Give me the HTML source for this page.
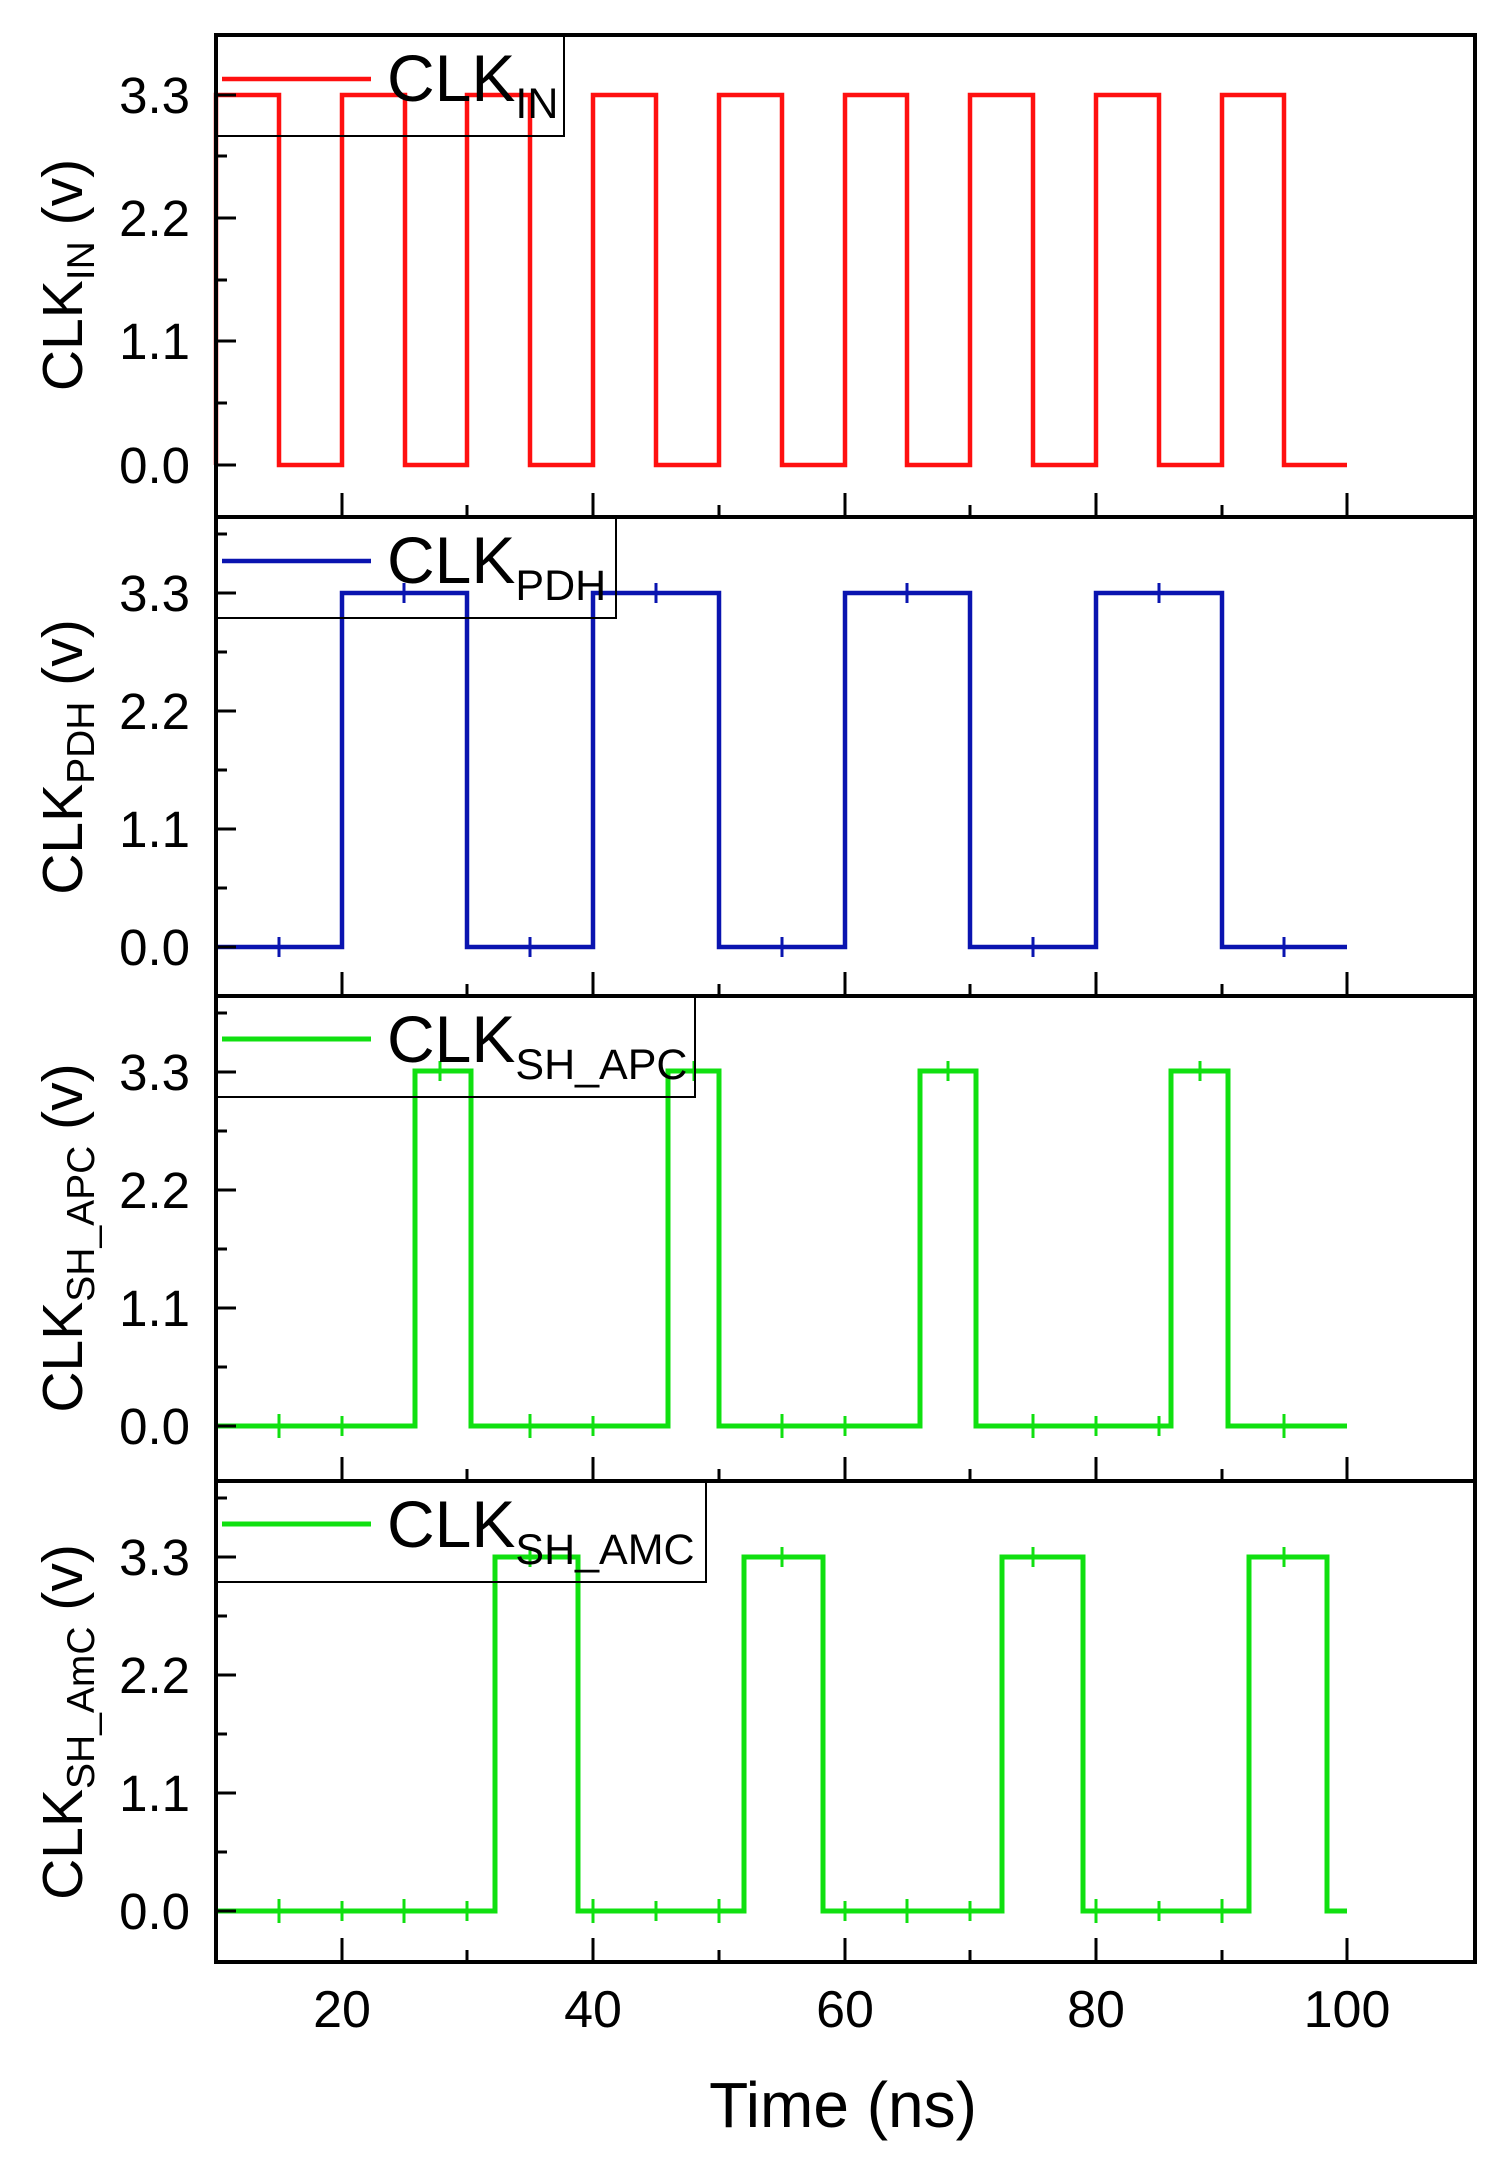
<!DOCTYPE html>
<html><head><meta charset="utf-8"><style>
html,body{margin:0;padding:0;background:#fff}
svg{display:block}
text{font-family:"Liberation Sans",Arial,sans-serif;fill:#000}
</style></head><body>
<svg width="1502" height="2164" viewBox="0 0 1502 2164" xmlns="http://www.w3.org/2000/svg">
<g fill="none" stroke-linejoin="miter">
<path d="M216 465 V95 H279 V465 H342 V95 H405 V465 H467 V95 H530 V465 H593 V95 H656 V465 H719 V95 H782 V465 H845 V95 H907 V465 H970 V95 H1033 V465 H1096 V95 H1159 V465 H1222 V95 H1284 V465 H1347" stroke="#ff1010" stroke-width="4.5"/>
<path d="M216 947 H342 V593 H467 V947 H593 V593 H719 V947 H845 V593 H970 V947 H1096 V593 H1222 V947 H1347" stroke="#0a14b0" stroke-width="4.5"/>
<path d="M279 937 V957 M530 937 V957 M782 937 V957 M1033 937 V957 M1284 937 V957 M404 583 V603 M656 583 V603 M907 583 V603 M1159 583 V603" stroke="#0a14b0" stroke-width="3"/>
<path d="M216 1426 H415 V1071 H471 V1426 H668 V1071 H719 V1426 H920 V1071 H976 V1426 H1171 V1071 H1228 V1426 H1347" stroke="#10e010" stroke-width="5"/>
<path d="M279 1414 V1438 M342 1416 V1436 M530 1414 V1438 M593 1416 V1436 M782 1414 V1438 M845 1416 V1436 M1033 1414 V1438 M1096 1416 V1436 M1284 1414 V1438 M1159 1416 V1436 M440 1061 V1081 M694 1061 V1081 M948 1061 V1081 M1200 1061 V1081" stroke="#10e010" stroke-width="3"/>
<path d="M216 1911 H495 V1557 H578 V1911 H744 V1557 H823 V1911 H1002 V1557 H1083 V1911 H1249 V1557 H1327 V1911 H1347" stroke="#10e010" stroke-width="5"/>
<path d="M279 1899 V1923 M342 1901 V1921 M404 1899 V1923 M467 1901 V1921 M593 1899 V1923 M656 1901 V1921 M719 1899 V1923 M845 1901 V1921 M907 1899 V1923 M970 1901 V1921 M1096 1899 V1923 M1159 1901 V1921 M1222 1899 V1923 M530 1547 V1567 M782 1547 V1567 M1033 1547 V1567 M1284 1547 V1567" stroke="#10e010" stroke-width="3"/>
</g>

<g fill="none" stroke="#000" stroke-width="4">
<rect x="216" y="35" width="1259" height="482"/>
<rect x="216" y="517" width="1259" height="479"/>
<rect x="216" y="996" width="1259" height="485"/>
<rect x="216" y="1481" width="1259" height="481"/>
</g>

<g stroke="#000" stroke-width="3">
<path d="M216 465 h20 M216 341 h20 M216 218 h20 M216 95 h20 M216 403 h11 M216 280 h11 M216 156 h11"/>
<path d="M216 947 h20 M216 829 h20 M216 711 h20 M216 593 h20 M216 888 h11 M216 770 h11 M216 652 h11 M216 534 h11"/>
<path d="M216 1426 h20 M216 1308 h20 M216 1190 h20 M216 1072 h20 M216 1367 h11 M216 1249 h11 M216 1131 h11 M216 1013 h11"/>
<path d="M216 1911 h20 M216 1793 h20 M216 1675 h20 M216 1557 h20 M216 1852 h11 M216 1734 h11 M216 1616 h11 M216 1498 h11"/>
<path d="M342 517 v-24 M593 517 v-24 M845 517 v-24 M1096 517 v-24 M1347 517 v-24 M467 517 v-12 M719 517 v-12 M970 517 v-12 M1222 517 v-12"/>
<path d="M342 996 v-24 M593 996 v-24 M845 996 v-24 M1096 996 v-24 M1347 996 v-24 M467 996 v-12 M719 996 v-12 M970 996 v-12 M1222 996 v-12"/>
<path d="M342 1481 v-24 M593 1481 v-24 M845 1481 v-24 M1096 1481 v-24 M1347 1481 v-24 M467 1481 v-12 M719 1481 v-12 M970 1481 v-12 M1222 1481 v-12"/>
<path d="M342 1962 v-24 M593 1962 v-24 M845 1962 v-24 M1096 1962 v-24 M1347 1962 v-24 M467 1962 v-12 M719 1962 v-12 M970 1962 v-12 M1222 1962 v-12"/>
</g>

<g fill="none" stroke="#000" stroke-width="2">
<rect x="216" y="35" width="348" height="101"/>
<rect x="216" y="517" width="400" height="101"/>
<rect x="216" y="996" width="479" height="101"/>
<rect x="216" y="1481" width="490" height="101"/>
</g>
<path d="M222 79 H371" stroke="#ff1010" stroke-width="4.5"/>
<path d="M222 561 H371" stroke="#0a14b0" stroke-width="4.5"/>
<path d="M222 1039 H371" stroke="#10e010" stroke-width="5"/>
<path d="M222 1524 H371" stroke="#10e010" stroke-width="5"/>
<g font-size="66">
<text x="387" y="101">CLK<tspan font-size="43" dy="17">IN</tspan></text>
<text x="387" y="583">CLK<tspan font-size="43" dy="17">PDH</tspan></text>
<text x="387" y="1062">CLK<tspan font-size="43" dy="17">SH_APC</tspan></text>
<text x="387" y="1547">CLK<tspan font-size="43" dy="17">SH_AMC</tspan></text>
</g>

<g font-size="51" text-anchor="end">
<text x="190" y="113">3.3</text><text x="190" y="236">2.2</text><text x="190" y="359">1.1</text><text x="190" y="483">0.0</text>
<text x="190" y="611">3.3</text><text x="190" y="729">2.2</text><text x="190" y="847">1.1</text><text x="190" y="965">0.0</text>
<text x="190" y="1090">3.3</text><text x="190" y="1208">2.2</text><text x="190" y="1326">1.1</text><text x="190" y="1444">0.0</text>
<text x="190" y="1575">3.3</text><text x="190" y="1693">2.2</text><text x="190" y="1811">1.1</text><text x="190" y="1929">0.0</text>
</g>

<g font-size="57" text-anchor="middle">
<text transform="translate(82,275) rotate(-90)">CLK<tspan font-size="39" dy="12">IN</tspan><tspan dy="-12"> (v)</tspan></text>
<text transform="translate(82,757) rotate(-90)">CLK<tspan font-size="39" dy="12">PDH</tspan><tspan dy="-12"> (v)</tspan></text>
<text transform="translate(82,1238) rotate(-90)">CLK<tspan font-size="39" dy="12">SH_APC</tspan><tspan dy="-12"> (v)</tspan></text>
<text transform="translate(82,1722) rotate(-90)">CLK<tspan font-size="39" dy="12">SH_AmC</tspan><tspan dy="-12"> (v)</tspan></text>
</g>

<g font-size="52" text-anchor="middle">
<text x="342" y="2027">20</text>
<text x="593" y="2027">40</text>
<text x="845" y="2027">60</text>
<text x="1096" y="2027">80</text>
<text x="1347" y="2027">100</text>
</g>
<text x="843" y="2127" font-size="64" text-anchor="middle">Time (ns)</text>
</svg>
</body></html>
